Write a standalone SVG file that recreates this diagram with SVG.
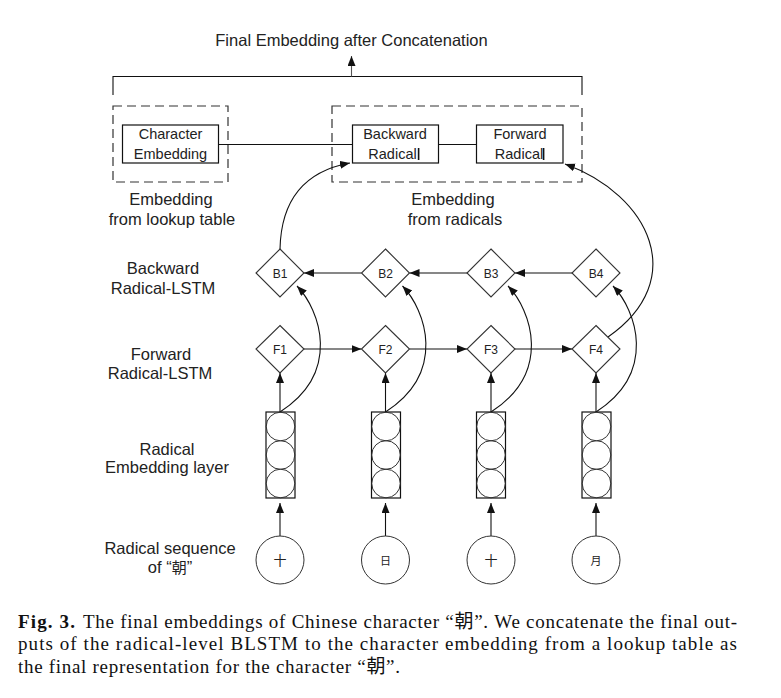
<svg xmlns="http://www.w3.org/2000/svg" width="781" height="698" viewBox="0 0 781 698">
<style>
.lbl{font-family:"Liberation Sans",Arial,sans-serif;font-size:16.5px;fill:#222;text-anchor:middle}
.box{font-family:"Liberation Sans",Arial,sans-serif;font-size:14.5px;fill:#222;text-anchor:middle}
.dl{font-family:"Liberation Sans",Arial,sans-serif;font-size:12px;fill:#222;text-anchor:middle}
.cjk{font-family:"Noto Sans CJK SC","Noto Sans CJK JP",sans-serif;font-size:13px;fill:#222;text-anchor:middle}
.cap{font-family:"Liberation Serif","Noto Sans CJK SC",serif;font-size:19px;fill:#111}
.dash{fill:none;stroke:#333;stroke-width:1.2;stroke-dasharray:9 5}
.rect{fill:#fff;stroke:#111;stroke-width:1.2}
.dia{fill:#fff;stroke:#333;stroke-width:1.1}
.cir{fill:none;stroke:#333;stroke-width:1}
.ln{fill:none;stroke:#111;stroke-width:1.1}
.arr{fill:none;stroke:#111;stroke-width:1.1;marker-end:url(#ah)}
</style>
<defs>
<marker id="ah" markerUnits="userSpaceOnUse" markerWidth="11" markerHeight="9" refX="10" refY="4" orient="auto">
<path d="M0,0 L10,4 L0,8 z" fill="#111"/>
</marker>
</defs>
<rect width="781" height="698" fill="#fff"/>

<g id="title">
<text class="lbl" x="351.5" y="46">Final Embedding after Concatenation</text>
</g>

<g id="lookup-group">
<rect class="dash" x="113" y="106" width="115" height="76"/>
<text class="lbl" x="171" y="205">Embedding</text>
<text class="lbl" x="172" y="225">from lookup table</text>
</g>
<g id="radicals-group">
<rect class="dash" x="332" y="106" width="250" height="76"/>
<text class="lbl" x="453" y="205">Embedding</text>
<text class="lbl" x="455" y="225">from radicals</text>
</g>

<g id="char-emb">
<rect class="rect" x="122.5" y="125" width="96" height="38"/>
<text class="box" x="170.5" y="139">Character</text>
<text class="box" x="170.5" y="158.5">Embedding</text>
</g>
<g id="backward-radical">
<rect class="rect" x="352.5" y="125" width="86" height="38"/>
<text class="box" x="395" y="139">Backward</text>
<text class="box" x="392.5" y="158.5">Radical</text>
<rect x="417.8" y="148" width="1.6" height="12" fill="#111"/>
</g>
<g id="forward-radical">
<rect class="rect" x="476.5" y="125" width="86.5" height="38"/>
<text class="box" x="520" y="139">Forward</text>
<text class="box" x="519" y="158.5">Radical</text>
<rect x="542.8" y="148" width="1.6" height="12" fill="#111"/>
</g>

<g id="row-labels">
<text class="lbl" x="163" y="274">Backward</text>
<text class="lbl" x="163" y="294">Radical-LSTM</text>
<text class="lbl" x="161" y="360">Forward</text>
<text class="lbl" x="160" y="379">Radical-LSTM</text>
<text class="lbl" x="167" y="455">Radical</text>
<text class="lbl" x="167" y="473">Embedding layer</text>
<text class="lbl" x="170" y="554">Radical sequence</text>
<text class="lbl" x="170" y="573">of “<tspan style="font-family:'Noto Sans CJK SC',sans-serif;font-size:15px">朝</tspan>”</text>
</g>

<g id="connectors">
<path class="ln" d="M113,95 V76.5 H582 V95"/>
<path class="arr" d="M351.5,76.5 V56" style="stroke:#555"/>
<path class="ln" d="M218.5,144.5 H352.5"/>
<path class="ln" d="M438.5,144.5 H476.5"/>
<path class="arr" d="M280,249 C281,205 300,172 350,163"/>
<path class="arr" d="M608,337 C690,280 650,195 565,164"/>
<path class="arr" d="M361.5,273 H304"/>
<path class="arr" d="M467,273 H409.5"/>
<path class="arr" d="M572,273 H515"/>
<path class="arr" d="M304,349 H361.5"/>
<path class="arr" d="M409.5,349 H467"/>
<path class="arr" d="M515,349 H572"/>
<path class="arr" d="M280,412 V373"/>
<path class="arr" d="M385.5,412 V373"/>
<path class="arr" d="M491,412 V373"/>
<path class="arr" d="M596,412 V373"/>
<path class="arr" d="M280,412 C342,372 320,310 297,286"/>
<path class="arr" d="M385.5,412 C447.5,372 425.5,310 402.5,286"/>
<path class="arr" d="M491,412 C553,372 531,310 508,286"/>
<path class="arr" d="M596,412 C658,372 636,310 613,286"/>
<path class="arr" d="M280,536 V503"/>
<path class="arr" d="M385.5,536 V503"/>
<path class="arr" d="M491,536 V503"/>
<path class="arr" d="M596,536 V503"/>
</g>

<g id="B1"><path class="dia" d="M280,249 L304,273 L280,297 L256,273 Z"/><text class="dl" x="280" y="277.5">B1</text></g>
<g id="B2"><path class="dia" d="M385.5,249 L409.5,273 L385.5,297 L361.5,273 Z"/><text class="dl" x="385.5" y="277.5">B2</text></g>
<g id="B3"><path class="dia" d="M491,249 L515,273 L491,297 L467,273 Z"/><text class="dl" x="491" y="277.5">B3</text></g>
<g id="B4"><path class="dia" d="M596,249 L620,273 L596,297 L572,273 Z"/><text class="dl" x="596" y="277.5">B4</text></g>
<g id="F1"><path class="dia" d="M280,325.5 L304,349 L280,373 L256,349 Z"/><text class="dl" x="280" y="353.5">F1</text></g>
<g id="F2"><path class="dia" d="M385.5,325.5 L409.5,349 L385.5,373 L361.5,349 Z"/><text class="dl" x="385.5" y="353.5">F2</text></g>
<g id="F3"><path class="dia" d="M491,325.5 L515,349 L491,373 L467,349 Z"/><text class="dl" x="491" y="353.5">F3</text></g>
<g id="F4"><path class="dia" d="M596,325.5 L620,349 L596,373 L572,349 Z"/><text class="dl" x="596" y="353.5">F4</text></g>

<g id="E1"><rect class="rect" x="266" y="412" width="29" height="86" style="fill:none"/><circle class="cir" cx="280.5" cy="426.5" r="14.3"/><circle class="cir" cx="280.5" cy="455" r="14.3"/><circle class="cir" cx="280.5" cy="483.5" r="14.3"/></g>
<g id="E2"><rect class="rect" x="371.5" y="412" width="29" height="86" style="fill:none"/><circle class="cir" cx="386" cy="426.5" r="14.3"/><circle class="cir" cx="386" cy="455" r="14.3"/><circle class="cir" cx="386" cy="483.5" r="14.3"/></g>
<g id="E3"><rect class="rect" x="476.5" y="412" width="29" height="86" style="fill:none"/><circle class="cir" cx="491" cy="426.5" r="14.3"/><circle class="cir" cx="491" cy="455" r="14.3"/><circle class="cir" cx="491" cy="483.5" r="14.3"/></g>
<g id="E4"><rect class="rect" x="582" y="412" width="29" height="86" style="fill:none"/><circle class="cir" cx="596.5" cy="426.5" r="14.3"/><circle class="cir" cx="596.5" cy="455" r="14.3"/><circle class="cir" cx="596.5" cy="483.5" r="14.3"/></g>

<g id="R1"><circle class="cir" cx="280" cy="560" r="24"/><text class="cjk" x="280" y="565">十</text></g>
<g id="R2"><circle class="cir" cx="385.5" cy="560" r="24"/><text class="cjk" x="385.5" y="565" style="font-size:11px">日</text></g>
<g id="R3"><circle class="cir" cx="491" cy="560" r="24"/><text class="cjk" x="491" y="565">十</text></g>
<g id="R4"><circle class="cir" cx="596" cy="560" r="24"/><text class="cjk" x="596" y="565" style="font-size:11px">月</text></g>

<g id="caption">
<text class="cap" x="18" y="627.5" style="font-weight:bold" textLength="57" lengthAdjust="spacing">Fig. 3.</text>
<text class="cap" x="83" y="627.5" textLength="654" lengthAdjust="spacing">The final embeddings of Chinese character “朝”. We concatenate the final out-</text>
<text class="cap" x="18" y="650" textLength="719" lengthAdjust="spacing">puts of the radical-level BLSTM to the character embedding from a lookup table as</text>
<text class="cap" x="18" y="672.5" textLength="382" lengthAdjust="spacing">the final representation for the character “朝”.</text>
</g>
</svg>
